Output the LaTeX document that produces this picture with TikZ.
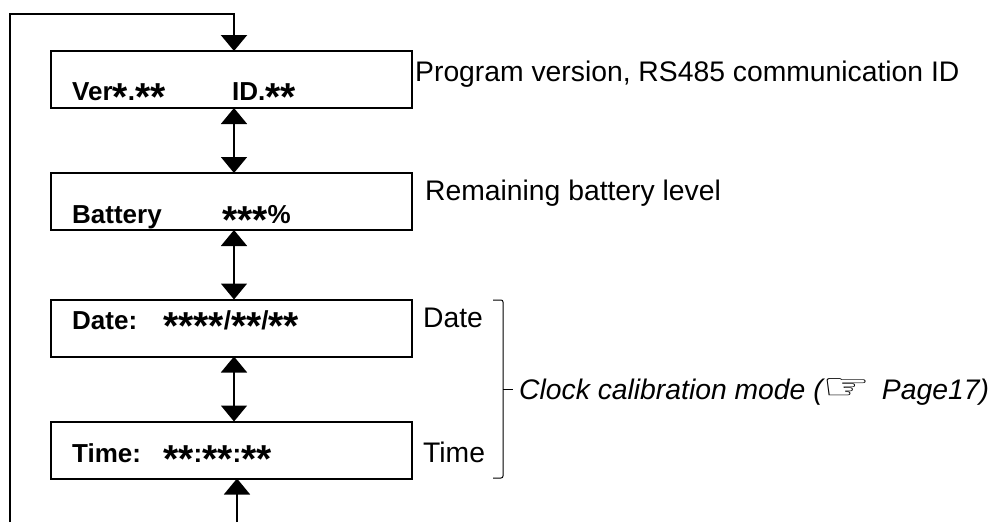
\documentclass[tikz,border=0pt]{standalone}
\usepackage{fontspec}
\setmainfont{Liberation Sans}
\newfontfamily\handfont{DejaVu Sans}
\usetikzlibrary{arrows.meta, positioning, calc}

% a star as the display shows it, centred on the letters
\newcommand{\sx}{\raisebox{-10pt}{\fontsize{39}{39}\selectfont *}}

\begin{document}
\begin{tikzpicture}[x=1pt, y=-1pt,
    box/.style={draw, line width=2pt, minimum width=361pt, minimum height=57pt, inner sep=0, outer sep=0},
    fld/.style={anchor=base west, inner sep=0, font=\fontsize{26}{30}\selectfont\bfseries},
    note/.style={anchor=base west, inner sep=0, font=\fontsize{28.3}{34}\selectfont},
    link/.style={line width=1.6pt},
    >={Triangle[length=16pt, width=26pt]}]
\useasboundingbox (0,0) rectangle (992,522);
% display screens
\node[box] (v) at (231.5,79.5)  {};
\node[box] (b) at (231.5,201.5) {};
\node[box] (d) at (231.5,328)   {};
\node[box] (t) at (231.5,450)   {};
\node[fld] (v1) at (72,100)  {Ver\sx.\sx\sx};
\node[fld] (v2) at (232,100) {ID.\sx\sx};
\node[fld] (b1) at (72,223)  {Battery};
\node[fld] (b2) at (222,223) {\sx\sx\sx\%};
\node[fld] (d1) at (72,329)  {Date:};
\node[fld] (d2) at (163,329) {\sx\sx\sx\sx/\sx\sx/\sx\sx};
\node[fld] (t1) at (72,462)  {Time:};
\node[fld] (t2) at (163,462) {\sx\sx:\sx\sx:\sx\sx};
% notes on the right
\node[note] (nv) at (415,81)  {Program version, RS485 communication ID};
\node[note] (nb) at (425,200) {Remaining battery level};
\node[note] (nd) at (423,327) {Date};
\node[note] (nt) at (423,462) {Time};
\node[note, font=\fontsize{28.3}{34}\selectfont\itshape] (nc) at (519,399)
  {Clock calibration mode ({\upshape\handfont\scalebox{1.9}[1.3]{☞}}\hspace{11pt}Page17)};
% moves between screens
\coordinate (ax) at (234,0);
\draw[link, <->] (v.south -| ax) -- (b.north -| ax);
\draw[link, <->] (b.south -| ax) -- (d.north -| ax);
\draw[link, <->] (d.south -| ax) -- (t.north -| ax);
\coordinate (lin) at (237,522);
\draw[link, ->] (lin) -- (t.south -| lin);
\coordinate (lstart) at (10,522);
\coordinate (ltop) at (234,14);
\draw[line width=2.2pt, ->] (lstart) |- (ltop) -- (v.north -| ltop);
% bracket for the clock screens
\draw[line width=1pt, rounded corners=2pt] (493,300) -- (503,300) -- (503,478) -- (493,478);
\draw[line width=1pt] (503,389) -- (513,389);
\end{tikzpicture}
\end{document}
